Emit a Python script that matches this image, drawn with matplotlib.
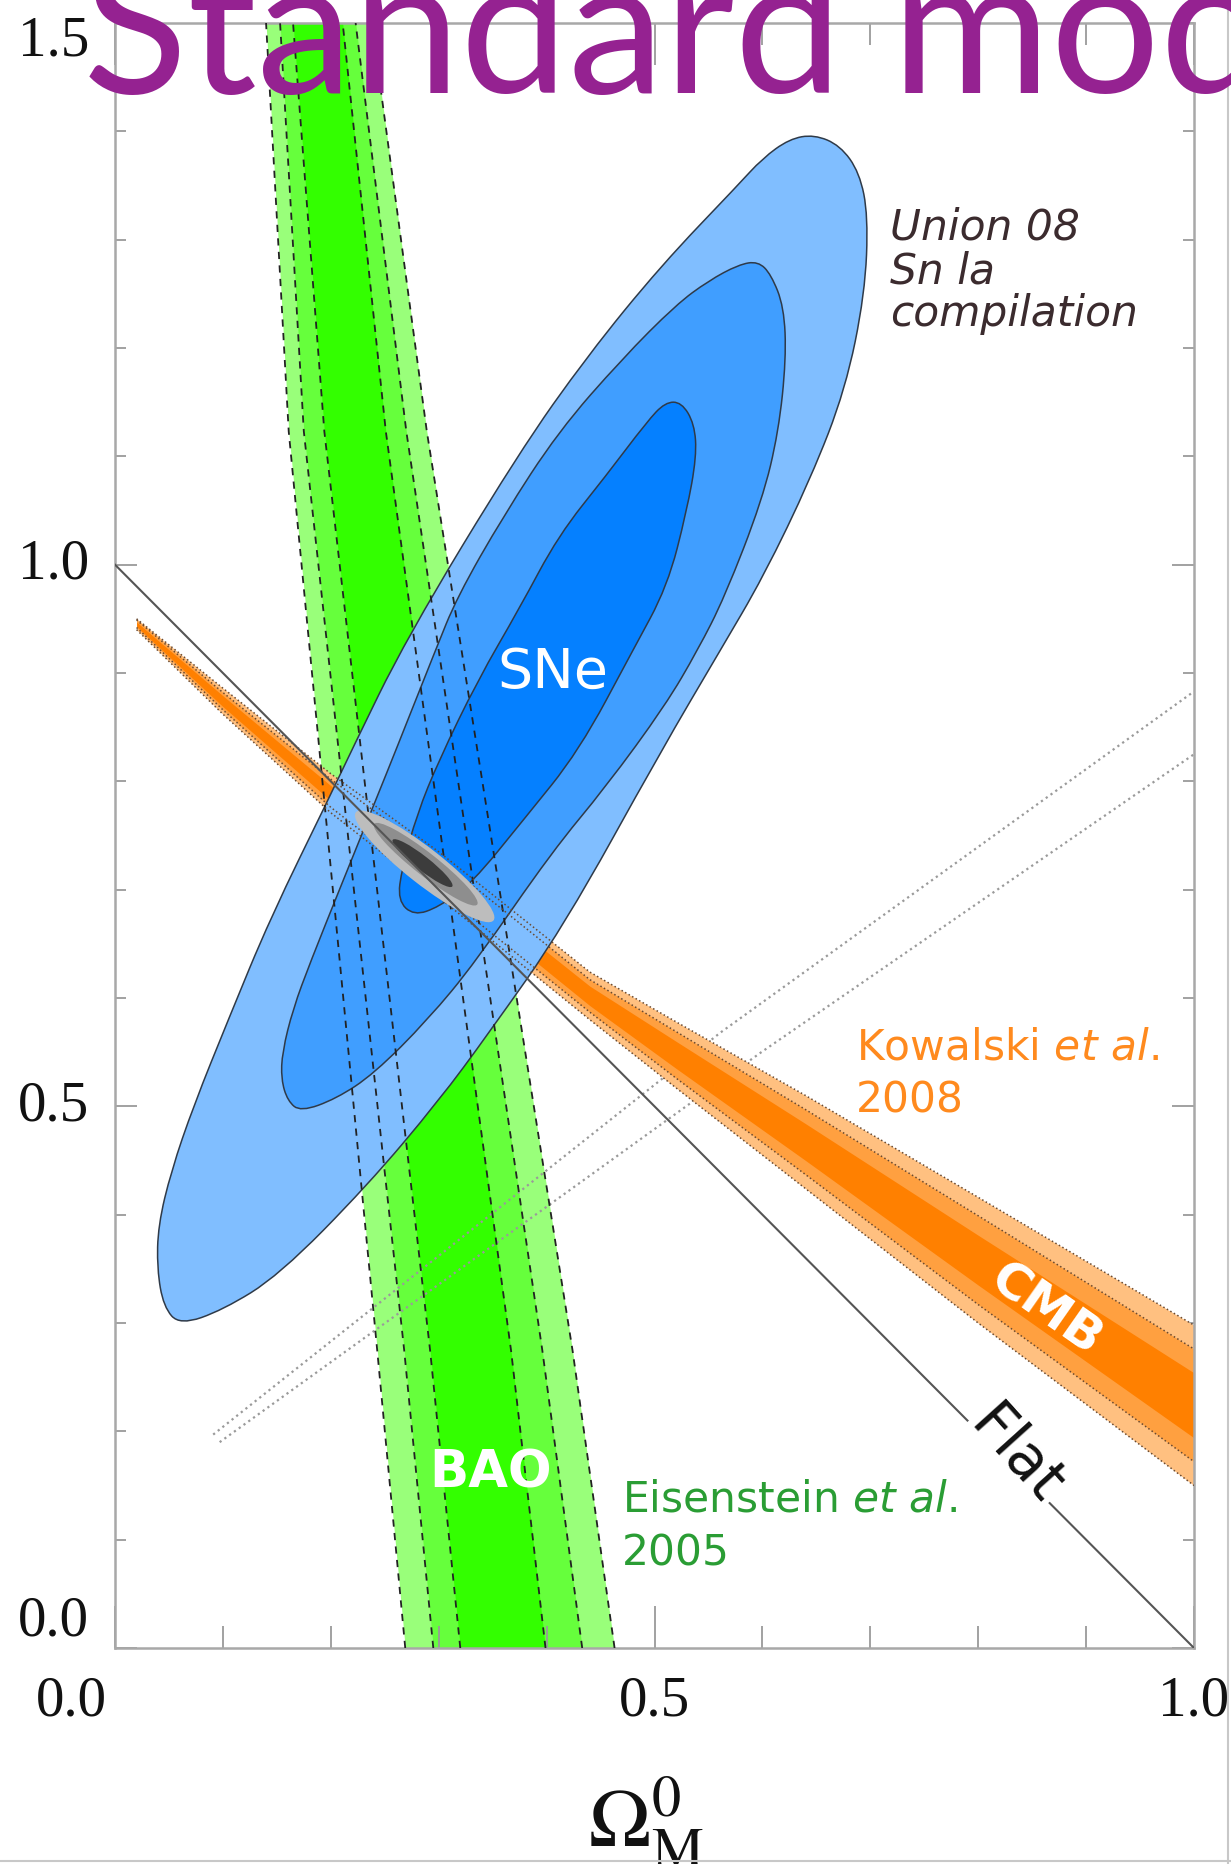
import matplotlib.pyplot as plt
from matplotlib.patches import PathPatch, Ellipse
from matplotlib.path import Path
from matplotlib.lines import Line2D

plt.rcParams['font.family'] = ['DejaVu Sans']

# ---------------- SNe (Union08) contours, traced boundary points ----------------
sne_outer_x = [0.060, 0.100, 0.152, 0.234, 0.300, 0.346, 0.416, 0.506, 0.561, 0.601,
               0.645, 0.677, 0.695, 0.698, 0.690, 0.672, 0.648, 0.625, 0.600, 0.577,
               0.506, 0.438, 0.374, 0.270, 0.219, 0.199, 0.144, 0.105, 0.073, 0.052,
               0.040, 0.039, 0.045]
sne_outer_y = [0.298, 0.312, 0.344, 0.427, 0.505, 0.567, 0.666, 0.828, 0.921, 0.989,
               1.080, 1.162, 1.250, 1.322, 1.362, 1.387, 1.397, 1.393, 1.375, 1.350,
               1.276, 1.193, 1.103, 0.932, 0.828, 0.786, 0.674, 0.580, 0.501, 0.440,
               0.390, 0.350, 0.315]

sne_mid_x = [0.172, 0.205, 0.240, 0.290, 0.334, 0.405, 0.455, 0.510, 0.540, 0.565,
             0.600, 0.615, 0.622, 0.620, 0.608, 0.596, 0.578, 0.550, 0.520, 0.470,
             0.411, 0.360, 0.317, 0.297, 0.260, 0.243, 0.210, 0.181, 0.165, 0.155,
             0.154, 0.160]
sne_mid_y = [0.495, 0.507, 0.530, 0.580, 0.633, 0.735, 0.795, 0.870, 0.921, 0.970,
             1.060, 1.123, 1.190, 1.238, 1.268, 1.280, 1.277, 1.262, 1.240, 1.190,
             1.123, 1.045, 0.970, 0.921, 0.828, 0.786, 0.705, 0.633, 0.590, 0.550,
             0.525, 0.505]

sne_in_x = [0.277, 0.300, 0.330, 0.379, 0.430, 0.480, 0.512, 0.530, 0.539, 0.537,
            0.525, 0.510, 0.493, 0.455, 0.411, 0.375, 0.336, 0.300, 0.280, 0.266,
            0.262]
sne_in_y = [0.676, 0.684, 0.705, 0.765, 0.828, 0.921, 0.980, 1.050, 1.100, 1.130,
            1.150, 1.150, 1.132, 1.082, 1.027, 0.960, 0.893, 0.819, 0.770, 0.720,
            0.690]

# ---------------- BAO band: six edges (Omega_M) read at four Omega_Lambda levels ----------------
bao_y = [0.0, 0.275, 1.123, 1.5]
bao_e0 = [0.269, 0.243, 0.161, 0.140]
bao_e1 = [0.295, 0.268, 0.175, 0.153]
bao_e2 = [0.320, 0.292, 0.194, 0.165]
bao_e3 = [0.399, 0.367, 0.251, 0.211]
bao_e4 = [0.433, 0.396, 0.270, 0.223]
bao_e5 = [0.463, 0.424, 0.289, 0.238]

# ---------------- CMB band edges ----------------
cmb_x = [0.02, 0.10, 0.20, 0.30, 0.44, 0.52, 0.64, 0.80, 1.00]
cmb_top_out = [0.950, 0.886, 0.807, 0.735, 0.624, 0.578, 0.510, 0.416, 0.298]
cmb_top_mid = [0.949, 0.882, 0.802, 0.729, 0.617, 0.569, 0.497, 0.399, 0.276]
cmb_top_in = [0.947, 0.879, 0.796, 0.722, 0.611, 0.560, 0.484, 0.381, 0.254]
cmb_bot_in = [0.943, 0.869, 0.782, 0.706, 0.593, 0.535, 0.450, 0.335, 0.194]
cmb_bot_mid = [0.942, 0.866, 0.776, 0.699, 0.587, 0.526, 0.437, 0.317, 0.172]
cmb_bot_out = [0.940, 0.862, 0.771, 0.693, 0.580, 0.517, 0.424, 0.300, 0.150]

# ---------------- combined constraint (grey ellipses) ----------------
comb_cx = [0.287, 0.288, 0.285]
comb_cy = [0.7215, 0.7235, 0.7245]
comb_len = [0.162, 0.121, 0.070]
comb_wid = [0.033, 0.021, 0.013]
comb_angle = -38

# ---------------- reference lines ----------------
flat_x = [0.0, 1.0]
flat_y = [1.0, 0.0]
dot_a_x = [0.091, 0.561, 1.0]
dot_a_y = [0.197, 0.568, 0.883]
dot_b_x = [0.097, 0.599, 1.0]
dot_b_y = [0.190, 0.550, 0.825]

x_ticks = [0.0, 0.5, 1.0]
y_ticks = [0.0, 0.5, 1.0, 1.5]


def smooth_outline(xs, ys):
    # closed outline made of quadratic Bezier pieces through the traced points
    pts = list(zip(xs, ys))
    n = len(pts)
    mids = [((pts[i][0] + pts[(i + 1) % n][0]) / 2, (pts[i][1] + pts[(i + 1) % n][1]) / 2)
            for i in range(n)]
    verts = [mids[-1]]
    codes = [Path.MOVETO]
    for i in range(n):
        verts += [pts[i], mids[i]]
        codes += [Path.CURVE3, Path.CURVE3]
    verts.append(mids[-1])
    codes.append(Path.CLOSEPOLY)
    return Path(verts, codes)


W, H = 1231, 1864
fig = plt.figure(figsize=(W / 100, H / 100), dpi=100)
ax = fig.add_axes([115 / W, 216 / H, 1079 / W, 1625 / H])
ax.set_xlim(0, 1)
ax.set_ylim(0, 1.5)

# BAO fills
bao_cols = ['#99FF7A', '#66FF3C', '#33FF00']
ax.fill_betweenx(bao_y, bao_e0, bao_e5, color=bao_cols[0], lw=0, zorder=1)
ax.fill_betweenx(bao_y, bao_e1, bao_e4, color=bao_cols[1], lw=0, zorder=1)
ax.fill_betweenx(bao_y, bao_e2, bao_e3, color=bao_cols[2], lw=0, zorder=1)

# dotted reference curves
ax.plot(dot_a_x, dot_a_y, ls=':', color='#9a9a9a', lw=1.6, zorder=1.5)
ax.plot(dot_b_x, dot_b_y, ls=':', color='#9a9a9a', lw=1.6, zorder=1.5)

# CMB fills
cmb_cols = ['#FFC080', '#FFA040', '#FF8000']
ax.fill_between(cmb_x, cmb_bot_out, cmb_top_out, color=cmb_cols[0], lw=0, zorder=2)
ax.fill_between(cmb_x, cmb_bot_mid, cmb_top_mid, color=cmb_cols[1], lw=0, zorder=2)
ax.fill_between(cmb_x, cmb_bot_in, cmb_top_in, color=cmb_cols[2], lw=0, zorder=2)

# SNe contours
sne_cols = ['#80BEFF', '#409EFF', '#0580FF']
for xs, ys, c in [(sne_outer_x, sne_outer_y, sne_cols[0]),
                  (sne_mid_x, sne_mid_y, sne_cols[1]),
                  (sne_in_x, sne_in_y, sne_cols[2])]:
    ax.add_patch(PathPatch(smooth_outline(xs, ys), fc=c, ec='#2f3a48',
                           lw=1.1, zorder=3))

# BAO dashed edges on top of everything coloured
for e in [bao_e0, bao_e1, bao_e2, bao_e3, bao_e4, bao_e5]:
    ax.plot(e, bao_y, color='#222222', lw=1.3, dashes=(4, 3.5), zorder=4)

# CMB dotted edges
for e in [cmb_top_out, cmb_top_mid, cmb_bot_mid, cmb_bot_out]:
    ax.plot(cmb_x, e, color='#6a4a30', lw=1.1, ls=':', zorder=4)

# combined grey ellipses
comb_cols = ['#BDBDBD', '#8E8E8E', '#3C3C3C']
for cx, cy, L, w, c in zip(comb_cx, comb_cy, comb_len, comb_wid, comb_cols):
    ax.add_patch(Ellipse((cx, cy), L, w, angle=comb_angle, fc=c, ec='none', zorder=5))

# flat universe line
ax.plot(flat_x, flat_y, color='#555555', lw=1.5, zorder=6)

# labels inside the plot
ax.text(0.406, 0.900, 'SNe', color='white', fontsize=40, ha='center', va='center', zorder=7)
ax.text(0.348, 0.161, 'BAO', color='white', fontsize=37, fontweight='bold',
        ha='center', va='center', zorder=7)
ax.text(0.863, 0.312, 'CMB', color='white', fontsize=36, fontweight='bold',
        ha='center', va='center', rotation=-35, rotation_mode='anchor', zorder=7)
ax.text(0.835, 0.178, 'Flat', color='#111111', fontsize=42, ha='center', va='center',
        rotation=-48, rotation_mode='anchor', zorder=7,
        bbox=dict(fc='white', ec='none', pad=2))

for txt, yy in zip(['Union 08', 'Sn la', 'compilation'], [1.300, 1.260, 1.220]):
    ax.text(0.718, yy, txt, color='#3b2b2e', fontsize=30.5, fontstyle='italic',
            ha='left', va='baseline', zorder=7)

ax.text(0.687, 0.543, r'Kowalski $\mathit{et\ al.}$', color='#FF8A1E', fontsize=30.5,
        math_fontfamily='dejavusans', ha='left', va='baseline', zorder=7)
ax.text(0.687, 0.494, '2008', color='#FF8A1E', fontsize=30.5, ha='left', va='baseline', zorder=7)
ax.text(0.470, 0.1256, r'Eisenstein $\mathit{et\ al.}$', color='#2a9d34', fontsize=30.5,
        math_fontfamily='dejavusans', ha='left', va='baseline', zorder=7)
ax.text(0.470, 0.0757, '2005', color='#2a9d34', fontsize=30.5, ha='left', va='baseline', zorder=7)

# axes frame and ticks
for s in ax.spines.values():
    s.set_color('#a8a8a8')
    s.set_linewidth(1.8)
ax.set_xticks(x_ticks)
ax.set_xticks([0.1, 0.2, 0.3, 0.4, 0.6, 0.7, 0.8, 0.9], minor=True)
ax.set_yticks(y_ticks)
ax.set_yticks([0.1, 0.2, 0.3, 0.4, 0.6, 0.7, 0.8, 0.9, 1.1, 1.2, 1.3, 1.4], minor=True)
ax.tick_params(which='both', direction='in', top=True, right=True, color='#9a9a9a',
               width=1.3, labelleft=False, labelbottom=False)
ax.tick_params(axis='x', which='major', length=30)
ax.tick_params(axis='x', which='minor', length=16)
ax.tick_params(axis='y', which='major', length=16)
ax.tick_params(axis='y', which='minor', length=8)

tick_font = dict(family='Liberation Serif', fontsize=41, color='#111111')
for v in y_ticks:
    dy = 26 if v == 0.0 else (-19 if v == 1.5 else 0)
    ax.annotate(f'{v:.1f}', xy=(0, v), xycoords=('axes fraction', 'data'),
                xytext=(-26, dy), textcoords='offset pixels',
                ha='right', va='center', **tick_font)
for v in x_ticks:
    dx = -44 if v == 0.0 else 0
    ax.annotate(f'{v:.1f}', xy=(v, 0), xycoords=('data', 'axes fraction'),
                xytext=(dx, -54), textcoords='offset pixels',
                ha='center', va='center', **tick_font)

ax.set_xlabel(r'$\Omega_{\rm M}^{0}$', fontsize=60, math_fontfamily='stix', color='#111111')
ax.xaxis.set_label_coords(0.492, -(1847 - 1648) / 1625)
ax.xaxis.label.set_va('baseline')

# slide title overlapping the top of the plot
fig.text(83 / W, 1 - 93 / H, 'Standard model', family='Lato', fontsize=139,
         color='#952291', ha='left', va='baseline')

# thin border of the slide capture
fig.add_artist(Line2D([1228 / W, 1228 / W], [0, 1], color='#c8c8c8', lw=1.5))
fig.add_artist(Line2D([0, 1], [3 / H, 3 / H], color='#c8c8c8', lw=1.5))

fig.savefig('out.png', dpi=100)
